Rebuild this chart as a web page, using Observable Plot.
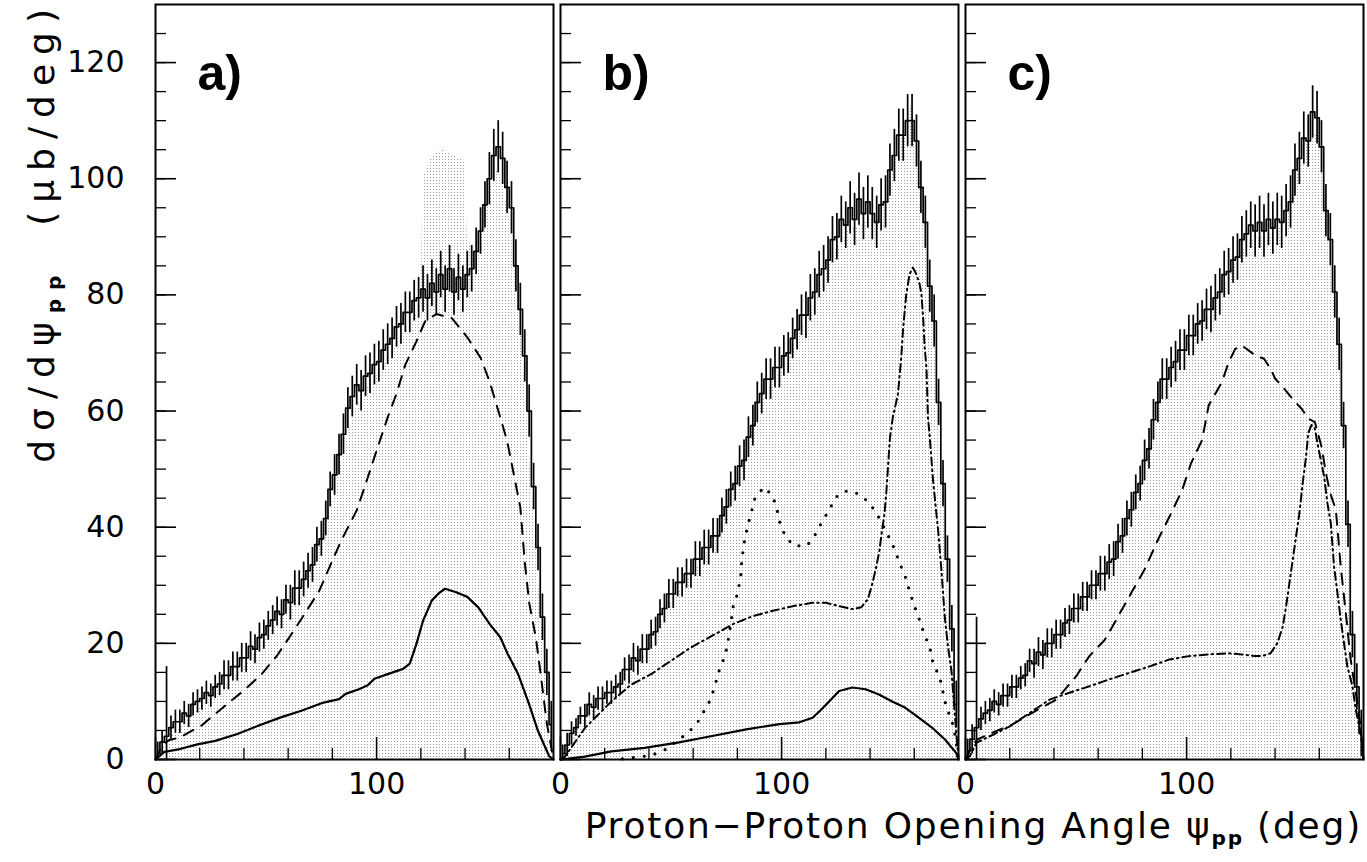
<!DOCTYPE html>
<html><head><meta charset="utf-8">
<script src="https://cdn.jsdelivr.net/npm/d3@7"></script>
<script src="https://cdn.jsdelivr.net/npm/@observablehq/plot@0.6"></script>
<style>
body{margin:0;background:#fff}
#chart{position:relative;width:1367px;height:862px;overflow:hidden}
</style>
</head><body><div id="chart"></div>
<script>
// ---------- data ----------
const panels = ["a", "b", "c"];
const binWidth = 2;            // degrees per data bin, bins from 0 to 180
const yTickLabels = [0, 20, 40, 60, 80, 100, 120];
const yMinorTicks = [0,5,10,15,20,25,30,35,40,45,50,55,60,65,70,75,80,85,90,95,100,105,110,115,120,125];
const xTickLabels = [0, 100];
const xMinorTicks = [20, 40, 60, 80, 120, 140, 160];

// measured data (bin values)
const dataA = [
  1, 3, 4, 5.5, 6.5, 6.5, 8, 7.5, 9.5, 10,
  10.5, 11.5, 11, 12.5, 13, 14.5, 14.5, 16, 16, 17.5,
  17.5, 19.5, 19, 21, 21.5, 23, 24, 25.5, 25, 27.5,
  27, 29.5, 29.5, 31, 32.5, 33.5, 37, 38, 41.5, 46.5,
  49, 52.5, 56, 60.5, 62.5, 64.5, 63.5, 66, 66.5, 68,
  68.5, 70.5, 71.5, 72.5, 74.5, 75, 77, 77, 79, 79.5,
  81, 79.5, 82, 80.5, 83.5, 81, 84.5, 80.5, 83, 81,
  83.5, 84.5, 87.5, 91, 95.5, 100, 104, 105.5, 103.5, 98.5,
  95, 85, 77.5, 69.5, 60, 47, 36.5, 24.5, 15, 6
];
const dataB = [
  1, 2.5, 4.5, 5.5, 7.5, 7.5, 9.5, 9, 10.5, 10.5,
  11.5, 11.5, 12.5, 13, 15.5, 15.5, 17.5, 17, 19, 19,
  21.5, 22, 25, 26, 28.5, 28.5, 30.5, 30.5, 32, 32,
  34.5, 34.5, 36.5, 36.5, 38.5, 38.5, 42, 43.5, 46.5, 47.5,
  50.5, 51.5, 55.5, 57.5, 61.5, 63, 65.5, 65.5, 67.5, 67.5,
  69.5, 70, 72.5, 74, 76.5, 76.5, 79.5, 80.5, 83.5, 84.5,
  86, 89.5, 90, 93, 92, 95, 93, 96.5, 94, 96,
  94, 92.5, 95.5, 96, 101.5, 104, 107.5, 107.5, 110, 110,
  106.5, 98.5, 92.5, 81.5, 75.5, 61.5, 47.5, 34.5, 22.5, 9.5
];
const dataC = [
  1.5, 3.5, 5.5, 7, 8, 8.5, 10, 9.5, 11, 11,
  12.5, 12.5, 14, 14.5, 17, 16.5, 18.5, 18, 20, 20,
  21.5, 21.5, 23.5, 24, 26, 26, 28, 28, 30, 30,
  32, 32, 34, 34.5, 37.5, 38.5, 41.5, 43, 46, 47.5,
  51.5, 53.5, 58.5, 61.5, 65.5, 65.5, 67.5, 68.5, 70.5, 70.5,
  73, 73, 75, 75.5, 77.5, 77.5, 79.5, 80.5, 83.5, 84,
  86, 86.5, 89.5, 90.5, 92, 91, 92.5, 91, 93, 91.5,
  93, 92.5, 94.5, 96, 101.5, 103.5, 107, 106.5, 111.5, 110.5,
  105.5, 94.5, 89.5, 80.5, 71.5, 57.5, 40.5, 21.5, 12.5, 4.5
];
// error half-widths per 10-degree range, and for the first bins
const errA = [2, 2, 2, 2.5, 2.5, 2.5, 3, 3, 3.5, 3.5, 3.5, 3.5, 4, 4, 4, 4.5, 4.5, 4];
const errB = [1.5, 2, 2, 2.5, 2.5, 2.5, 3, 3, 3.5, 3.5, 3.5, 4, 4, 4.5, 4.5, 4.5, 4.5, 4];
const errC = [2, 2, 2, 2.5, 2.5, 2.5, 3, 3, 3.5, 3.5, 3.5, 4, 4, 4.5, 4.5, 4.5, 4.5, 4];
const errStartA = [2, 2, 12];
const errStartB = [1.5, 2, 2];
const errStartC = [2, 2.5, 19];

// shaded (stippled) distributions [deg, value]
const grayA = [[0,0],[5,3],[10,5],[15,7],[20,9],[25,10.5],[30,12.5],[35,14],[40,16],[45,18.5],[50,21],[55,23.5],[60,25.5],[65,28.5],[70,32.5],[75,38],[80,45],[85,53],[90,60],[95,63.5],[100,66],[105,69],[110,72],[115,75],[120,78],[121,100],[125,104],[130,105],[135,104],[140,103],[141,90],[145,86],[150,97],[155,102],[160,94],[165,76],[170,48],[175,22],[180,0]];
const grayB = [[0,0],[5,3.5],[10,6.5],[15,8.5],[20,10],[25,11.5],[30,14],[35,16.5],[40,18.5],[45,23],[50,27],[55,29.5],[60,32],[65,35],[70,37.5],[75,43],[80,47.5],[85,54],[90,61],[95,64.5],[100,67],[105,71],[110,75],[115,79.5],[120,84],[125,88],[130,91],[135,92],[140,93],[145,93],[150,101],[155,108],[158,114],[161,106],[165,91],[170,68],[175,33],[180,0]];
const grayC = [[0,0],[5,4.5],[10,8],[15,9.5],[20,11.5],[25,13],[30,16],[35,18],[40,20],[45,22.5],[50,25.5],[55,27.5],[60,30],[65,33],[70,37],[75,42.5],[80,48.5],[85,56],[90,64],[95,68],[100,70.5],[105,73.5],[110,76.5],[115,80],[120,84],[125,87.5],[130,89.5],[135,90],[140,90.5],[145,93],[150,101],[155,107],[160,108],[165,86],[170,66],[175,20],[180,0]];

// model curves [deg, value]
const solidA = [[0,0],[4,1.3],[11,1.8],[19,2.6],[27,3.2],[37,4.4],[47,5.9],[57,7.3],[66,8.4],[76,9.8],[83,10.4],[86,11.3],[92,12.1],[96,12.8],[99,13.9],[105,14.7],[112,15.6],[115,16.5],[118,19.9],[121,23.9],[125,27.4],[128,28.6],[131,29.4],[136,28.8],[141,28],[146,26.2],[151,23.4],[156,21],[159,18.4],[164,14.7],[169,9.5],[173,4.9],[178,0.6],[180,0]];
const dashedA = [[0,0],[3,2.5],[6,3.3],[11,3.8],[21,5.9],[30,8.8],[40,11.9],[48,14.7],[55,17.9],[61,21.3],[68,25.4],[74,29],[79,33.4],[84,37.7],[91,42.9],[95,47.4],[100,53.2],[105,58.9],[109,63],[113,68],[118,72],[122,75.5],[127,76.7],[134,76],[141,72.7],[147,69.2],[151,65.2],[155,60.1],[159,54.9],[162,49.2],[165,43.4],[167,34],[169,27],[172,21],[174,15.3],[177,6.2],[180,0]];
const solidB = [[0,0],[11,0.5],[23,1.4],[38,2],[53,2.9],[68,4],[84,5.2],[99,6.1],[108,6.4],[114,7.2],[118,8.6],[123,10.6],[126,11.8],[132,12.4],[138,12.1],[144,11.2],[150,10],[156,8.9],[162,7.2],[168,5.5],[174,3.4],[179,1.1],[180,0]];
const dottedB = [[28,0.1],[41,0.7],[48,1.8],[53,3.3],[58,4.7],[62,6.4],[65,8.4],[68,10.4],[70,13],[72,15.6],[74.5,17.9],[76,21],[77,23.3],[78,26.2],[80,28.5],[81.5,31.4],[82,34.3],[83,37.2],[84.5,40],[86.5,42.9],[88,45.1],[92,46.9],[96,45.4],[98,42.9],[99.5,40.3],[102,38.3],[105.5,36.8],[111.5,36.8],[115.5,38.9],[118.5,41.1],[121.5,42.9],[124,44.9],[127,46],[130.5,46.3],[135,45.7],[138.5,44.6],[142.5,42.7],[147,39.5],[151,36.3],[153.5,33.7],[156,31.4],[158,28.8],[160,26.5],[162.5,23.9],[164.5,21.6],[167,19.3],[168.5,16.5],[171.5,14.2],[173,11.6],[174.5,9],[177,6.7],[178.5,4.1],[180,0]];
const dashDotB = [[0,0],[2,0.5],[11,5.4],[17,7.7],[23,10],[32,12.9],[41,14.7],[50,17],[59,19.3],[70,21.6],[78,23.3],[87,24.7],[96,25.6],[105,26.4],[114,27],[120,27],[126,26.4],[132,25.9],[136,26.2],[139,27.6],[141,30.2],[142.7,33],[144.2,35.9],[145.4,39.4],[146.5,42.2],[147.3,45.7],[148,49.7],[149,55.4],[150.3,58.9],[152.6,62.9],[154,68.7],[155,74.4],[156.4,80.2],[157.9,83.6],[159.4,84.7],[160.9,83.6],[162.4,81.9],[163.2,80.2],[164,76.1],[164.7,71],[165.5,67.5],[166.2,58.9],[167,55.5],[168.5,48],[170.8,39.4],[172.3,32.5],[173.8,24.5],[175.3,19.3],[176.8,15.3],[178.3,7.9],[180,0]];
const dashedC = [[0,0],[2,1.5],[5,3.4],[12,4.6],[21,6],[30,8],[41,10.3],[50,14.3],[56,17.8],[63,20.6],[69,24.6],[75,28.7],[81,32.7],[87,37.8],[93,42.4],[98,46.4],[102,51],[107,55],[110,61],[116,65],[119,68.4],[122,70.7],[125,71.3],[131,69.6],[135,69],[138,67.3],[140,65.6],[144,63.9],[149,61.6],[152,60.4],[155,58.7],[158,58.1],[161,53.9],[163,49.3],[165,45.8],[167.5,43],[169.7,33.2],[172,25.2],[174.2,17.2],[176.5,11.5],[178.7,5.7],[180,0]];
const dashDotC = [[0,0],[2,0.6],[5,2.9],[11,4],[20,5.7],[29,8],[38,10.3],[47,11.5],[56,12.6],[65,13.8],[74,14.9],[83,16],[92,17.2],[101,17.8],[110,18.1],[119,18.3],[125,18.1],[131,17.8],[134,17.8],[138,18.3],[141,20],[143.5,22.9],[145,26.4],[146.5,30.4],[148,34.4],[149.5,38.4],[151,42.4],[152.5,47.6],[154,52.1],[155,56.2],[156.5,57.6],[158,57],[159.2,54.4],[162.2,48.7],[163.7,44.1],[165.2,40.7],[166.7,33.2],[168.2,28.7],[169.7,24.1],[171.2,20],[172.7,16],[175,12.6],[176.5,8.6],[178.7,4.6],[180,0]];

// ---------- tables ----------
function rows(panel, pairs) { return pairs.map(([deg, v]) => ({panel, deg, v})); }
function histRows(panel, values, errs, errStart) {
  return values.map((v, i) => {
    const deg = binWidth * i + binWidth / 2;
    const e = i < errStart.length ? errStart[i] : errs[Math.floor(deg / 10)];
    return {panel, deg, v, lo: Math.max(0, v - e), hi: v + e};
  });
}
const dataRows = [
  ...histRows("a", dataA, errA, errStartA),
  ...histRows("b", dataB, errB, errStartB),
  ...histRows("c", dataC, errC, errStartC)
];
const grayRows = [...rows("a", grayA), ...rows("b", grayB), ...rows("c", grayC)];
const solidRows = [...rows("a", solidA), ...rows("b", solidB)];
const dashedRows = [...rows("a", dashedA), ...rows("c", dashedC)];
const dottedRows = rows("b", dottedB);
const dashDotRows = [...rows("b", dashDotB), ...rows("c", dashDotC)];
const labelRows = panels.map(p => ({panel: p, label: p + ")"}));

const FONT = "DejaVu Sans";

const svg = Plot.plot({
  width: 1367, height: 862,
  marginLeft: 154, marginRight: 4, marginTop: 4, marginBottom: 103,
  x: {domain: [0, 180]},
  y: {domain: [0, 130]},
  fx: {domain: panels, axis: null, padding: 0, paddingInner: 0.018, paddingOuter: 0},
  style: {fontFamily: FONT, color: "black", background: "white"},
  marks: [
    Plot.areaY(grayRows, {x: "deg", y: "v", fx: "panel", fill: "url(#stipple)"}),
    Plot.line(solidRows, {x: "deg", y: "v", fx: "panel", stroke: "black", strokeWidth: 2.2}),
    Plot.line(dashedRows, {x: "deg", y: "v", fx: "panel", stroke: "black", strokeWidth: 2, strokeDasharray: "11,9"}),
    Plot.line(dottedRows, {x: "deg", y: "v", fx: "panel", stroke: "black", strokeWidth: 3.2, strokeLinecap: "round", strokeDasharray: "0,11"}),
    Plot.line(dashDotRows, {x: "deg", y: "v", fx: "panel", stroke: "black", strokeWidth: 2, strokeDasharray: "8,4,1.5,4"}),
    Plot.ruleX(dataRows, {x: "deg", y1: "lo", y2: "hi", fx: "panel", stroke: "black", strokeWidth: 1.7}),
    Plot.line(dataRows, {x: "deg", y: "v", fx: "panel", stroke: "black", strokeWidth: 1.7, curve: "step"}),
    Plot.frame({stroke: "black", strokeWidth: 2}),
    // inside ticks
    Plot.axisY({ticks: yMinorTicks, tickSize: -11, tickFormat: () => "", label: null, facetAnchor: null, strokeWidth: 1.3}),
    Plot.axisY({ticks: yTickLabels, tickSize: -21, tickFormat: () => "", label: null, facetAnchor: null, strokeWidth: 1.6}),
    Plot.axisX({ticks: xMinorTicks, tickSize: -11, tickFormat: () => "", label: null, facetAnchor: null, strokeWidth: 1.3}),
    Plot.axisX({ticks: xTickLabels, tickSize: -22, tickFormat: () => "", label: null, facetAnchor: null, strokeWidth: 1.6}),
    // tick labels
    Plot.axisY({ticks: yTickLabels, tickSize: 0, tickPadding: 31, label: null, fontSize: 30, fontFamily: FONT}),
    Plot.axisX({ticks: xTickLabels, tickSize: 0, tickPadding: 13, label: null, fontSize: 30, fontFamily: FONT}),
    // panel labels
    Plot.text(labelRows, {fx: "panel", text: "label", frameAnchor: "top-left", lineAnchor: "top", dx: 42, dy: 50,
      textAnchor: "start", fontSize: 50, fontWeight: "bold", fontFamily: "Liberation Sans", fill: "black"})
  ]
});
document.getElementById("chart").appendChild(svg);

// stipple pattern for the shaded distribution
const root = d3.select(svg);
const pat = root.insert("defs", ":first-child").append("pattern")
  .attr("id", "stipple").attr("patternUnits", "userSpaceOnUse")
  .attr("width", 3).attr("height", 3);
pat.append("rect").attr("width", 1).attr("height", 1).attr("fill", "#9a9a9a");

// axis titles (with subscripts)
const xt = root.append("text")
  .attr("x", 1362).attr("y", 838).attr("text-anchor", "end")
  .attr("font-family", FONT).attr("font-size", 36).attr("letter-spacing", 1.8).attr("fill", "black");
xt.append("tspan").text("Proton\u2212Proton Opening Angle \u03C8");
xt.append("tspan").attr("font-size", 20).attr("font-weight", "bold").attr("dy", 7).text("pp");
xt.append("tspan").attr("dy", -7).text(" (deg)");

const yt = root.append("text")
  .attr("transform", "translate(54,0) rotate(-90)").attr("text-anchor", "end")
  .attr("font-family", FONT).attr("font-size", 36).attr("letter-spacing", 9).attr("fill", "black");
yt.append("tspan").text("d\u03C3/d\u03C8");
yt.append("tspan").attr("font-size", 20).attr("font-weight", "bold").attr("dy", 7).text("pp");
yt.append("tspan").attr("dy", -7).text("  (\u03BCb/deg)");
</script>
</body></html>
